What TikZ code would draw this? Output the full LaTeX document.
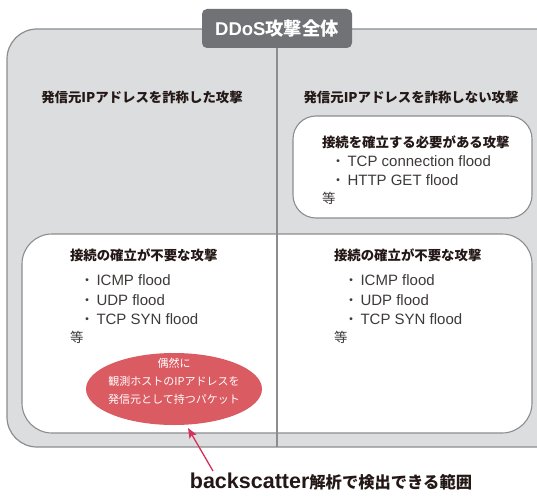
\documentclass[tikz,border=0pt]{standalone}
\usepackage{fontspec}
\setmainfont{Noto Sans CJK JP}
\newfontfamily\jp{Noto Sans CJK JP}
\newfontfamily\lat{Liberation Sans}
\usetikzlibrary{arrows.meta}
\definecolor{outerfill}{HTML}{DCDDDF}
\definecolor{edge}{HTML}{8C8D90}
\definecolor{titlefill}{HTML}{717276}
\definecolor{txt}{HTML}{231815}
\definecolor{txtb}{HTML}{3E3A39}
\definecolor{ovalred}{HTML}{DB5B62}
\definecolor{arrowred}{HTML}{D5305B}
\newcommand\bulmark{{\jp\fontsize{14}{16}\selectfont ・}\hspace{2.5pt}}
\begin{document}
\begin{tikzpicture}[x=1pt,y=-1pt,
  every node/.style={inner sep=0pt, outer sep=0pt},
  head/.style={font=\bfseries\fontsize{13.4}{16}\selectfont, text=txt},
  body/.style={font=\lat\fontsize{15}{18}\selectfont, text=txtb, anchor=west},
  etcnote/.style={font=\fontsize{13.4}{16}\selectfont, text=txtb, anchor=west},
  panel/.style={draw=edge, line width=1.1pt, fill=white},
  ovaltext/.style={font=\fontsize{11}{13}\selectfont, text=white}]
\clip (0,0) rectangle (537,495);
% outer area
\draw[draw=edge, line width=1.2pt, fill=outerfill, rounded corners=30pt] (7,29) rectangle (570,447);
% top-right panel
\draw[panel, rounded corners=23pt] (293,116) rectangle (532,218);
% lower panel
\draw[panel, rounded corners=30pt] (22,234) rectangle (532,433);
% divider
\coordinate (divtop) at (277,48);
\coordinate (divbot) at (277,447);
\draw[draw=edge, line width=1.1pt] (divtop) -- (divbot);
% title
\draw[fill=titlefill, draw=none, rounded corners=5pt] (202,9) rectangle (352,48);
\node[text=white, font=\bfseries] (title) at (277,29)
  {{\lat\fontsize{18.5}{20}\selectfont DDoS}{\fontsize{18.3}{20}\selectfont 攻撃全体}};
% headers
\node[head] (hl) at (142,97) {発信元IPアドレスを詐称した攻撃};
\node[head] (hr) at (411,97) {発信元IPアドレスを詐称しない攻撃};
% top-right panel contents
\node[head, anchor=west] (trh) at (322,142) {接続を確立する必要がある攻撃};
\node[body] (tr1) at (331,161) {\bulmark TCP connection flood};
\node[body] (tr2) at (331,180) {\bulmark HTTP GET flood};
\node[etcnote] (tre) at (322,198) {等};
% lower-left contents
\node[head, anchor=west] (llh) at (70,255) {接続の確立が不要な攻撃};
\node[body] (ll1) at (80,280) {\bulmark ICMP flood};
\node[body] (ll2) at (80,300) {\bulmark UDP flood};
\node[body] (ll3) at (80,319) {\bulmark TCP SYN flood};
\node[etcnote] (lle) at (70,337) {等};
% lower-right contents
\node[head, anchor=west] (lrh) at (334,255) {接続の確立が不要な攻撃};
\node[body] (lr1) at (344,280) {\bulmark ICMP flood};
\node[body] (lr2) at (344,300) {\bulmark UDP flood};
\node[body] (lr3) at (344,319) {\bulmark TCP SYN flood};
\node[etcnote] (lre) at (334,337) {等};
% oval
\fill[ovalred] (174,389) ellipse [x radius=88, y radius=36];
\node[ovaltext] (ov1) at (174,363) {偶然に};
\node[ovaltext] (ov2) at (174,381) {観測ホストのIPアドレスを};
\node[ovaltext] (ov3) at (174,399) {発信元として持つパケット};
% bottom label and arrow
\node[font=\bfseries, text=txt] (lbl) at (331,482)
  {{\lat\fontsize{21.5}{24}\selectfont backscatter}{\fontsize{16.3}{18}\selectfont 解析で検出できる範囲}};
\coordinate (tail) at (213,471);
\coordinate (tip) at (188,428);
\draw[arrowred, line width=1.3pt, -{Stealth[length=10pt,width=8pt,inset=2pt]}] (tail) -- (tip);
\end{tikzpicture}
\end{document}
